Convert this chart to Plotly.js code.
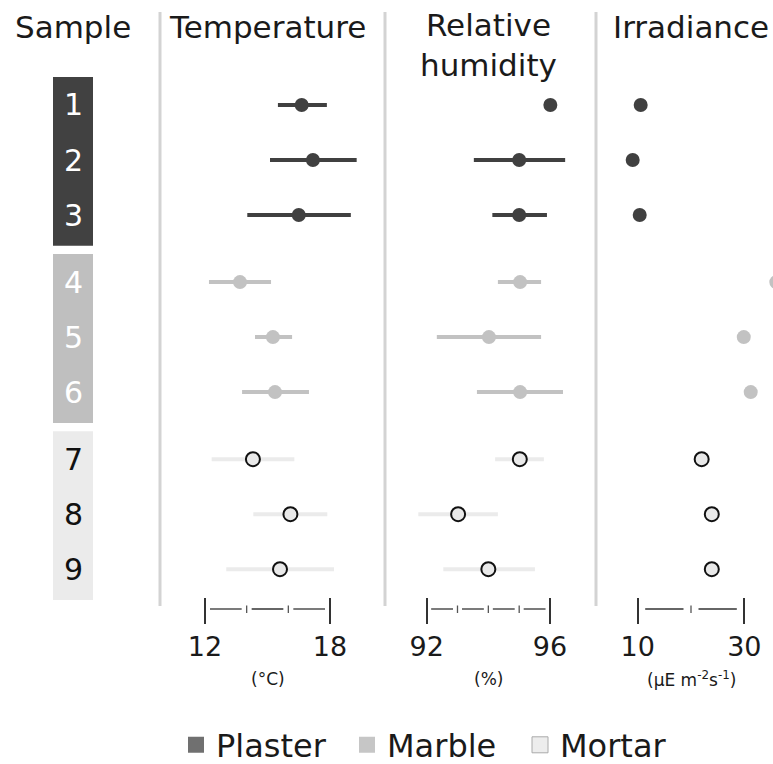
<!DOCTYPE html>
<html>
<head>
<meta charset="utf-8">
<script src="https://cdn.plot.ly/plotly-3.0.1.min.js"></script>
<style>html,body{margin:0;padding:0;background:#fff;}#chart{width:773px;height:764px;}</style>
</head>
<body>
<div id="chart"></div>
<script>
// ---- data ----
const samples = ['1','2','3','4','5','6','7','8','9'];
const sampleMaterial = ['Plaster','Plaster','Plaster','Marble','Marble','Marble','Mortar','Mortar','Mortar'];
const materials = ['Plaster','Marble','Mortar'];

const tempMean = [16.64, 17.18, 16.50, 13.68, 15.26, 15.36, 14.30, 16.10, 15.60];
const tempLow  = [15.50, 15.12, 14.03, 12.19, 14.40, 13.78, 12.32, 14.32, 13.02];
const tempHigh = [17.85, 19.28, 19.00, 15.17, 16.18, 16.99, 16.29, 17.87, 18.19];

const rhMean = [96.01, 95.00, 95.00, 95.03, 94.02, 95.03, 95.02, 93.02, 94.00];
const rhLow  = [96.01, 93.53, 94.13, 94.31, 92.33, 93.63, 94.22, 91.73, 92.54];
const rhHigh = [96.01, 96.49, 95.90, 95.71, 95.71, 96.42, 95.80, 94.31, 95.51];

const irrMean = [10.56, 9.06, 10.38, 36.0, 29.9, 31.2, 22.0, 23.9, 23.9];

const tempTicks = [12, 14, 16, 18];
const rhTicks = [92, 93, 94, 95, 96];
const irrTicks = [10, 20, 30];

const panelTitles = ['Temperature', 'Relative<br>humidity', 'Irradiance'];
const panelUnits = ['(°C)', '(%)', '(µE m<sup>-2</sup>s<sup>-1</sup>)'];

// ---- styling ----
const W = 773, H = 764;
const FONT = 'DejaVu Sans, sans-serif';
const TXT = '#1a1a1a';
const style = {
  Plaster: {line: '#404040', fill: '#404040', outline: '#404040', outw: 0, legend: '#707070', box: '#414141', num: '#ffffff', legX: 176},
  Marble:  {line: '#c2c2c2', fill: '#c2c2c2', outline: '#c2c2c2', outw: 0, legend: '#c6c6c6', box: '#bfbfbf', num: '#ffffff', legX: 347},
  Mortar:  {line: '#ebebeb', fill: '#e9e9e9', outline: '#111111', outw: 2, legend: '#ededed', box: '#ebebeb', num: '#111111', legX: 520}
};
const px = v => v / W;
const py = v => 1 - v / H;

// row positions derived from group membership (extra gap between groups)
const groupIdx = sampleMaterial.map(m => materials.indexOf(m));
const rowPos = samples.map((s, i) => i + groupIdx[i] * 0.22);

const panels = [
  {ax: 'x',  key: 'xaxis',  dom: [160, 385], range: [9.84, 20.64], ticks: tempTicks, mean: tempMean, lo: tempLow, hi: tempHigh, ppu: 125/6, gap: 5},
  {ax: 'x2', key: 'xaxis2', dom: [385, 596], range: [90.65, 97.49], ticks: rhTicks, mean: rhMean, lo: rhLow, hi: rhHigh, ppu: 123.3/4, gap: 4.5},
  {ax: 'x3', key: 'xaxis3', dom: [596, 773], range: [2.18, 35.38], ticks: irrTicks, mean: irrMean, lo: null, hi: null, ppu: 106.6/20, gap: 7.5}
];

const traces = [];
panels.forEach(p => {
  materials.forEach(m => {
    const idx = samples.map((s, i) => i).filter(i => sampleMaterial[i] === m);
    const st = style[m];
    const tr = {
      type: 'scatter', mode: 'markers', xaxis: p.ax, yaxis: 'y',
      x: idx.map(i => p.mean[i]), y: idx.map(i => rowPos[i]),
      marker: {size: 14, color: st.fill, line: {color: st.outline, width: st.outw}},
      showlegend: false, hoverinfo: 'skip'
    };
    if (p.lo) {
      tr.error_x = {type: 'data', symmetric: false,
        array: idx.map(i => p.hi[i] - p.mean[i]),
        arrayminus: idx.map(i => p.mean[i] - p.lo[i]),
        thickness: 4, width: 0, color: st.line};
    }
    traces.push(tr);
  });
});

const layout = {
  width: W, height: H,
  margin: {l: 0, r: 0, t: 0, b: 0, pad: 0, autoexpand: false},
  paper_bgcolor: '#ffffff', plot_bgcolor: 'rgba(0,0,0,0)',
  font: {family: FONT, color: TXT},
  showlegend: true,
  yaxis: {domain: [py(600), py(77)], range: [9.0, -0.509], visible: false, fixedrange: true},
  shapes: [], annotations: []
};

// legend entries: one legend per material so each can be placed
materials.forEach((m, k) => {
  const lname = k === 0 ? 'legend' : 'legend' + (k + 1);
  traces.push({type: 'scatter', mode: 'markers', x: [null], y: [null], name: m, legend: lname,
    marker: {symbol: 'square', size: 18, color: style[m].legend,
      line: {color: m === 'Mortar' ? '#aaaaaa' : style[m].legend, width: m === 'Mortar' ? 1 : 0}},
    showlegend: true, hoverinfo: 'skip'});
  layout[lname] = {orientation: 'h', x: px(style[m].legX), xanchor: 'left', y: py(745), yanchor: 'middle',
    font: {size: 32, family: FONT, color: TXT}, itemsizing: 'trace', bgcolor: 'rgba(0,0,0,0)', borderwidth: 0};
});

panels.forEach((p, k) => {
  layout[p.key] = {
    domain: [px(p.dom[0]), px(p.dom[1])], range: p.range, anchor: 'free', position: py(597),
    showgrid: false, zeroline: false, showline: false,
    tickmode: 'array', tickvals: [p.ticks[0], p.ticks[p.ticks.length - 1]],
    ticktext: [String(p.ticks[0]), String(p.ticks[p.ticks.length - 1])],
    ticks: 'outside', ticklen: 26, tickwidth: 2, tickcolor: '#333333',
    tickfont: {size: 27, family: FONT, color: TXT}, fixedrange: true
  };
  // axis segments between ticks
  const g = p.gap / p.ppu;
  for (let j = 0; j < p.ticks.length - 1; j++) {
    layout.shapes.push({type: 'line', xref: p.ax, yref: 'paper',
      x0: p.ticks[j] + g, x1: p.ticks[j + 1] - g, y0: py(609), y1: py(609),
      line: {color: '#333333', width: 1.3}});
  }
  // minor ticks
  for (let j = 1; j < p.ticks.length - 1; j++) {
    layout.shapes.push({type: 'line', xref: p.ax, yref: 'paper',
      x0: p.ticks[j], x1: p.ticks[j], y0: py(605.5), y1: py(613),
      line: {color: '#555555', width: 1.3}});
  }
  // separator line to the left of each panel
  layout.shapes.push({type: 'line', xref: 'paper', yref: 'paper',
    x0: px(p.dom[0]), x1: px(p.dom[0]), y0: py(12), y1: py(606),
    line: {color: '#d3d3d3', width: 3}});
  const mid = (p.ticks[0] + p.ticks[p.ticks.length - 1]) / 2;
  layout.annotations.push({xref: p.ax, yref: 'paper', x: mid, y: py(k === 1 ? 45 : 27),
    text: panelTitles[k], showarrow: false, xanchor: 'center', yanchor: 'middle',
    font: {size: 31, family: FONT, color: TXT}});
  layout.annotations.push({xref: p.ax, yref: 'paper', x: mid, y: py(679),
    text: panelUnits[k], showarrow: false, xanchor: 'center', yanchor: 'middle',
    font: {size: 17, family: FONT, color: TXT}});
});

// sample column
layout.annotations.push({xref: 'paper', yref: 'paper', x: px(73), y: py(27), text: 'Sample',
  showarrow: false, xanchor: 'center', yanchor: 'middle', font: {size: 31, family: FONT, color: TXT}});
materials.forEach((m, gi) => {
  const idx = samples.map((s, i) => i).filter(i => sampleMaterial[i] === m);
  layout.shapes.push({type: 'rect', xref: 'paper', yref: 'y', layer: 'below',
    x0: px(53), x1: px(93), y0: rowPos[idx[0]] - 0.51, y1: rowPos[idx[idx.length - 1]] + 0.56,
    fillcolor: style[m].box, line: {width: 0}});
  idx.forEach(i => {
    layout.annotations.push({xref: 'paper', yref: 'y', x: px(73), y: rowPos[i], text: samples[i],
      showarrow: false, xanchor: 'center', yanchor: 'middle',
      font: {size: 30, family: FONT, color: style[m].num}});
  });
});

Plotly.newPlot('chart', traces, layout, {displayModeBar: false, staticPlot: true});
</script>
</body>
</html>
